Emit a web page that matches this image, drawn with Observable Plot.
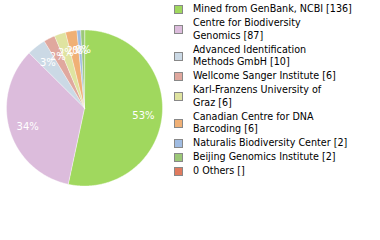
<!DOCTYPE html>
<html><head><meta charset="utf-8">
<script src="https://cdn.jsdelivr.net/npm/d3@7"></script>
<script src="https://cdn.jsdelivr.net/npm/@observablehq/plot@0.6"></script>
<style>
body{margin:0;background:#fff;width:380px;height:240px;overflow:hidden;position:relative;font-family:"DejaVu Sans Condensed","DejaVu Sans",sans-serif;}
#chart{position:absolute;left:0;top:0;}
#legend{position:absolute;left:174px;top:3px;width:206px;}
.item{display:flex;align-items:center;margin-bottom:1.5px;}
.sw{width:7px;height:7px;border:1px solid #888;flex:none;margin-right:10px;}
.lab{line-height:12.5px;color:#000;white-space:pre;}
</style></head><body>
<div id="chart"></div>
<div id="legend"></div>
<script>
const labels = ["Mined from GenBank, NCBI", "Centre for Biodiversity\nGenomics", "Advanced Identification\nMethods GmbH", "Wellcome Sanger Institute", "Karl-Franzens University of\nGraz", "Canadian Centre for DNA\nBarcoding", "Naturalis Biodiversity Center", "Beijing Genomics Institute", "0 Others"];
const counts = [136, 87, 10, 6, 6, 6, 2, 2, null];
const colors = ["#a0d85e", "#dcbcdc", "#cbd9e5", "#e0a89e", "#dfe3a0", "#f0b076", "#a0bce2", "#9cc878", "#e07a5e"];

const total = d3.sum(counts.filter(c => c != null));
const slicesData = labels.map((l, i) => ({count: counts[i], color: colors[i]})).filter(d => d.count);
const arcs = d3.pie().sort(null).value(d => d.count)(slicesData);

const pts = [];
arcs.forEach((a, i) => {
  pts.push({k: i, x: 0, y: 0, c: a.data.color});
  const n = Math.max(2, Math.ceil((a.endAngle - a.startAngle) * 180 / Math.PI * 2));
  for (let j = 0; j <= n; j++) {
    const t = a.startAngle + (a.endAngle - a.startAngle) * j / n;
    pts.push({k: i, x: Math.sin(t), y: Math.cos(t), c: a.data.color});
  }
});
const lab = arcs.map(a => {
  const m = (a.startAngle + a.endAngle) / 2;
  return {x: 0.76 * Math.sin(m), y: 0.76 * Math.cos(m), t: Math.floor(a.data.count / total * 100) + "%"};
});

const plot = Plot.plot({
  width: 168, height: 240,
  marginLeft: 6, marginRight: 6, marginTop: 29.5, marginBottom: 54.5,
  x: {domain: [-1, 1], axis: null},
  y: {domain: [-1, 1], axis: null},
  style: {background: "transparent", fontFamily: "DejaVu Sans"},
  marks: [
    Plot.line(pts, {x: "x", y: "y", z: "k", fill: "c", stroke: "#fff", strokeWidth: 0.4, curve: "linear-closed"}),
    Plot.text(lab, {x: "x", y: "y", text: "t", fill: "#fff", fontSize: 10, dy: 1.5, style: "letter-spacing:0.8px"})
  ]
});
document.getElementById("chart").appendChild(plot);

// fit legend font so that the first entry spans ~159px as in the reference
const ctx = document.createElement("canvas").getContext("2d");
ctx.font = "11px 'DejaVu Sans Condensed', 'DejaVu Sans'";
const w11 = ctx.measureText(labels[0] + " [" + counts[0] + "]").width;
const fs = Math.min(11.5, 11 * 159 / w11);

const lg = document.getElementById("legend");
labels.forEach((l, i) => {
  const it = document.createElement("div"); it.className = "item";
  const sw = document.createElement("div"); sw.className = "sw"; sw.style.background = colors[i];
  const tx = document.createElement("div"); tx.className = "lab"; tx.style.fontSize = fs + "px";
  tx.textContent = l + " [" + (counts[i] == null ? "" : counts[i]) + "]";
  it.appendChild(sw); it.appendChild(tx); lg.appendChild(it);
});
</script>
</body></html>
